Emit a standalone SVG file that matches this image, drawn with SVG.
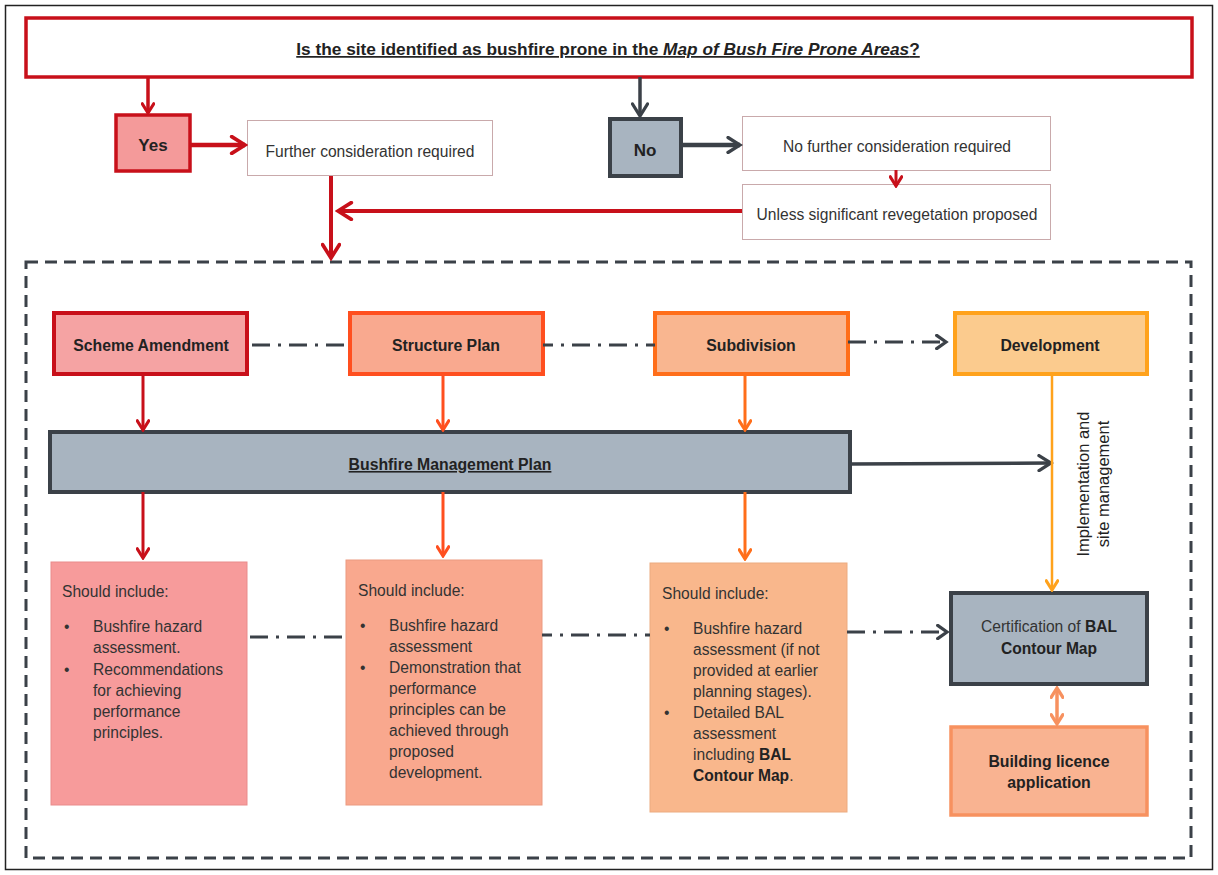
<svg xmlns="http://www.w3.org/2000/svg" width="1218" height="875" viewBox="0 0 1218 875">
<defs>
<style>
text{font-family:"Liberation Sans",Arial,sans-serif;fill:#222}
.t{font-size:15.6px;fill:#333}
.b{font-weight:bold}
.c{text-anchor:middle}
.lb{font-size:15.8px;font-weight:bold}
.box{fill:#fff;stroke:#c9a9ab;stroke-width:1}
.grey{fill:#a8b4c0;stroke:#3b4148;stroke-width:4}
.dd{fill:none;stroke:#3b4148;stroke-width:3;stroke-dasharray:18 8 3 8}
</style>
<marker id="ar" viewBox="0 0 12 12" refX="10" refY="6" markerWidth="14" markerHeight="14" markerUnits="userSpaceOnUse" orient="auto"><path d="M2,1 L10,6 L2,11" fill="none" stroke="#c8101a" stroke-width="2.6" stroke-linecap="round"/></marker>
<marker id="arL" viewBox="0 0 12 12" refX="10" refY="6" markerWidth="20" markerHeight="20" markerUnits="userSpaceOnUse" orient="auto"><path d="M2,1 L10,6 L2,11" fill="none" stroke="#c8101a" stroke-width="2.2" stroke-linecap="round"/></marker>
<marker id="ad" viewBox="0 0 12 12" refX="10" refY="6" markerWidth="18" markerHeight="18" markerUnits="userSpaceOnUse" orient="auto"><path d="M2,1 L10,6 L2,11" fill="none" stroke="#3b4148" stroke-width="2.2" stroke-linecap="round"/></marker>
<marker id="adc" viewBox="0 0 12 12" refX="10" refY="6" markerWidth="16" markerHeight="16" markerUnits="userSpaceOnUse" orient="auto"><path d="M3,1 L10,6 L3,11" fill="none" stroke="#3b4148" stroke-width="2.4" stroke-linecap="round"/></marker>
<marker id="ao1" viewBox="0 0 12 12" refX="10" refY="6" markerWidth="14" markerHeight="14" markerUnits="userSpaceOnUse" orient="auto"><path d="M2,1 L10,6 L2,11" fill="none" stroke="#ff4f1f" stroke-width="2.6" stroke-linecap="round"/></marker>
<marker id="ao2" viewBox="0 0 12 12" refX="10" refY="6" markerWidth="14" markerHeight="14" markerUnits="userSpaceOnUse" orient="auto"><path d="M2,1 L10,6 L2,11" fill="none" stroke="#ff6e1a" stroke-width="2.6" stroke-linecap="round"/></marker>
<marker id="ao3" viewBox="0 0 12 12" refX="10" refY="6" markerWidth="14" markerHeight="14" markerUnits="userSpaceOnUse" orient="auto"><path d="M2,1 L10,6 L2,11" fill="none" stroke="#ffa21c" stroke-width="2.6" stroke-linecap="round"/></marker>
<marker id="as" viewBox="0 0 12 12" refX="10" refY="6" markerWidth="14" markerHeight="14" markerUnits="userSpaceOnUse" orient="auto-start-reverse"><path d="M2,1 L10,6 L2,11" fill="none" stroke="#f7915f" stroke-width="2.8" stroke-linecap="round"/></marker>
</defs>
<rect x="0" y="0" width="1218" height="875" fill="#fff"/>
<rect x="5.5" y="5.5" width="1207" height="864" fill="none" stroke="#222" stroke-width="1.5"/>

<g id="question">
<rect x="26" y="18" width="1166" height="59" fill="#fff" stroke="#c8101a" stroke-width="3.5"/>
<text x="608" y="55" class="c b" font-size="17.3" text-decoration="underline">Is the site identified as bushfire prone in the <tspan font-style="italic">Map of Bush Fire Prone Areas</tspan>?</text>
</g>
<g id="yes">
<rect x="116" y="115" width="74" height="56" fill="#f49a9a" stroke="#c8101a" stroke-width="3.5"/>
<text x="153" y="151" class="c b" font-size="17">Yes</text>
</g>
<g id="further">
<rect x="247.5" y="120.5" width="245" height="55" class="box"/>
<text x="370" y="157" class="c t">Further consideration required</text>
</g>
<g id="no">
<rect x="610" y="119" width="71" height="57" class="grey" stroke-width="3.5"/>
<text x="645" y="156" class="c b" font-size="17">No</text>
</g>
<g id="nofurther">
<rect x="742.5" y="116.5" width="308" height="54" class="box" stroke="#c8c8c8"/>
<text x="897" y="152" class="c t">No further consideration required</text>
</g>
<g id="unless">
<rect x="742.5" y="184.5" width="308" height="55" class="box" stroke="#c8c8c8"/>
<text x="897" y="220" class="c t">Unless significant revegetation proposed</text>
</g>

<g id="frame">
<rect x="26" y="262" width="1165" height="596" fill="none" stroke="#3b4148" stroke-width="3" stroke-dasharray="12 7"/>
</g>

<g id="scheme">
<rect x="54" y="313" width="193" height="61" fill="#f5a3a3" stroke="#c8101a" stroke-width="4"/>
<text x="151" y="351" class="c lb">Scheme Amendment</text>
</g>
<g id="structure">
<rect x="350" y="313" width="193" height="61" fill="#f9a98f" stroke="#ff4f1f" stroke-width="4"/>
<text x="446" y="351" class="c lb">Structure Plan</text>
</g>
<g id="subdivision">
<rect x="655" y="313" width="193" height="61" fill="#f9b690" stroke="#ff6e1a" stroke-width="4"/>
<text x="751" y="351" class="c lb">Subdivision</text>
</g>
<g id="development">
<rect x="955" y="313" width="192" height="61" fill="#fbcb8e" stroke="#ffa21c" stroke-width="4"/>
<text x="1050" y="351" class="c lb">Development</text>
</g>

<g id="bmp">
<rect x="50" y="432" width="800" height="60" class="grey"/>
<text x="450" y="470" class="c lb" text-decoration="underline">Bushfire Management Plan</text>
</g>

<g id="sa-content">
<rect x="51" y="562" width="196" height="243" fill="#f79b9b" stroke="#e98b8b" stroke-width="1"/>
<text class="t"><tspan x="62" y="597">Should include:</tspan></text>
<text class="t"><tspan x="64" y="632">•</tspan><tspan x="64" y="675">•</tspan></text>
<text class="t"><tspan x="93" y="632">Bushfire hazard</tspan><tspan x="93" y="653">assessment.</tspan><tspan x="93" y="675">Recommendations</tspan><tspan x="93" y="696">for achieving</tspan><tspan x="93" y="717">performance</tspan><tspan x="93" y="738">principles.</tspan></text>
</g>
<g id="sp-content">
<rect x="346" y="560" width="196" height="245" fill="#f9a88e" stroke="#eb9a80" stroke-width="1"/>
<text class="t"><tspan x="358" y="596">Should include:</tspan></text>
<text class="t"><tspan x="360" y="631">•</tspan><tspan x="360" y="673">•</tspan></text>
<text class="t"><tspan x="389" y="631">Bushfire hazard</tspan><tspan x="389" y="652">assessment</tspan><tspan x="389" y="673">Demonstration that</tspan><tspan x="389" y="694">performance</tspan><tspan x="389" y="715">principles can be</tspan><tspan x="389" y="736">achieved through</tspan><tspan x="389" y="757">proposed</tspan><tspan x="389" y="778">development.</tspan></text>
</g>
<g id="sub-content">
<rect x="650" y="563" width="197" height="249" fill="#f9b78c" stroke="#ecab80" stroke-width="1"/>
<text class="t"><tspan x="662" y="599">Should include:</tspan></text>
<text class="t"><tspan x="664" y="634">•</tspan><tspan x="664" y="718">•</tspan></text>
<text class="t"><tspan x="693" y="634">Bushfire hazard</tspan><tspan x="693" y="655">assessment (if not</tspan><tspan x="693" y="676">provided at earlier</tspan><tspan x="693" y="697">planning stages).</tspan><tspan x="693" y="718">Detailed BAL</tspan><tspan x="693" y="739">assessment</tspan><tspan x="693" y="760">including <tspan class="b" fill="#222">BAL</tspan></tspan><tspan x="693" y="781"><tspan class="b" fill="#222">Contour Map</tspan>.</tspan></text>
</g>
<g id="cert">
<rect x="951" y="593" width="196" height="91" class="grey" stroke-width="4.5"/>
<text class="c t" fill="#222"><tspan x="1049" y="632">Certification of <tspan class="b" fill="#222">BAL</tspan></tspan><tspan x="1049" y="654" class="b" fill="#222">Contour Map</tspan></text>
</g>
<g id="building">
<rect x="951" y="727" width="196" height="88" fill="#f9b391" stroke="#f7915f" stroke-width="3.5"/>
<text class="c lb"><tspan x="1049" y="767">Building licence</tspan><tspan x="1049" y="788">application</tspan></text>
</g>
<g id="impl-label">
<text class="c" font-size="16.5" fill="#222" transform="translate(1089,484) rotate(-90)"><tspan x="0" y="0">Implementation and</tspan><tspan x="0" y="20">site management</tspan></text>
</g>

<g id="connectors" fill="none">
<path d="M148,77 V113" stroke="#c8101a" stroke-width="3.5" marker-end="url(#ar)"/>
<path d="M640,77 V116" stroke="#3b4148" stroke-width="3.5" marker-end="url(#ad)"/>
<path d="M190,145 H245" stroke="#c8101a" stroke-width="4.5" marker-end="url(#arL)"/>
<path d="M682,145 H740" stroke="#3b4148" stroke-width="4.5" marker-end="url(#ad)"/>
<path d="M896,170 V186" stroke="#c8101a" stroke-width="3" marker-end="url(#ar)"/>
<path d="M742,211 H338" stroke="#c8101a" stroke-width="4" marker-end="url(#arL)"/>
<path d="M331,176 V258" stroke="#c8101a" stroke-width="4" marker-end="url(#arL)"/>

<path d="M252,345 H350" class="dd"/>
<path d="M543,345 H655" class="dd" stroke-dashoffset="8"/>
<path d="M848,342 H946" class="dd" marker-end="url(#adc)"/>

<path d="M143,374 V430" stroke="#c8101a" stroke-width="3" marker-end="url(#ar)"/>
<path d="M443,374 V430" stroke="#ff4f1f" stroke-width="3" marker-end="url(#ao1)"/>
<path d="M745,374 V430" stroke="#ff6e1a" stroke-width="3" marker-end="url(#ao2)"/>

<path d="M143,492 V558" stroke="#c8101a" stroke-width="3" marker-end="url(#ar)"/>
<path d="M443,492 V556" stroke="#ff4f1f" stroke-width="3" marker-end="url(#ao1)"/>
<path d="M745,492 V559" stroke="#ff6e1a" stroke-width="3" marker-end="url(#ao2)"/>

<path d="M850,464 L1051,463" stroke="#3b4148" stroke-width="3.5" marker-end="url(#ad)"/>
<path d="M1052,374 V590" stroke="#ffa21c" stroke-width="2.5" marker-end="url(#ao3)"/>

<path d="M250,637 H346" class="dd"/>
<path d="M542,635 H650" class="dd" stroke-dashoffset="8"/>
<path d="M847,632 H947" class="dd" marker-end="url(#adc)"/>

<path d="M1057,688 V724" stroke="#f7915f" stroke-width="3.5" marker-start="url(#as)" marker-end="url(#as)"/>
</g>
</svg>
